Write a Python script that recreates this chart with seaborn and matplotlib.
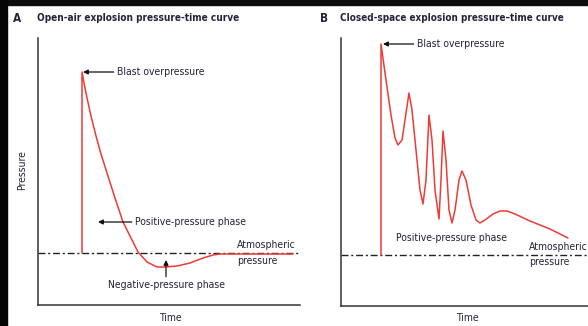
import matplotlib
matplotlib.use("Agg")
import matplotlib.pyplot as plt
from matplotlib import font_manager
from matplotlib.patches import Rectangle
import seaborn as sns
import pandas as pd

sns.set_theme(style="white")
names = {f.name for f in font_manager.fontManager.ttflist}
fam = "Liberation Sans Narrow" if "Liberation Sans Narrow" in names else "DejaVu Sans"
plt.rcParams["font.family"] = [fam, "DejaVu Sans"]
plt.rcParams["font.stretch"] = "condensed"

# ---- data (arbitrary units; atmospheric pressure = 0) ----
time_a = [44, 44, 46, 49, 53, 58, 63, 69, 77, 85, 94, 100, 109, 119, 127, 139, 152, 165, 175, 182, 255]
pres_a = [0, 181, 170, 155, 137, 117, 99, 80, 55, 31, 13, 1, -9, -14, -14, -13, -10, -5, -2, -1, -1]

time_b = [40, 40, 45, 50, 54, 57, 61, 64, 68, 71, 75, 79, 82, 85, 88, 91, 94, 98, 100, 102,
          105, 108, 111, 114, 118, 121, 125, 130, 135, 139, 144, 152, 159, 166, 174, 189, 209, 227]
pres_b = [0, 211, 175, 140, 117, 110, 115, 135, 162, 145, 105, 65, 51, 75, 140, 115, 65, 36, 75, 124,
          95, 45, 32, 45, 75, 84, 75, 50, 35, 32, 35, 41, 44, 44, 41, 34, 26, 17]

titles = ["Open-air explosion pressure-time curve", "Closed-space explosion pressure\u2013time curve"]
letters = ["A", "B"]

red = "#ee3b35"
txt = "#23233a"

W, H = 588, 326
fig = plt.figure(figsize=(W / 100, H / 100), dpi=100)
fig.patch.set_facecolor("white")

def fx(px):
    return px / W

def fy(py):
    return 1 - py / H

axA = fig.add_axes([fx(38), fy(305), fx(300) - fx(38), fy(38) - fy(305)])
axB = fig.add_axes([fx(341), fy(306), fx(588) - fx(341), fy(38) - fy(306)])

dfA = pd.DataFrame({"time": time_a, "pressure": pres_a})
dfB = pd.DataFrame({"time": time_b, "pressure": pres_b})

sns.lineplot(data=dfA, x="time", y="pressure", sort=False, estimator=None, color=red, lw=1.1, ax=axA)
sns.lineplot(data=dfB, x="time", y="pressure", sort=False, estimator=None, color=red, lw=1.1, ax=axB)

axA.set_xlim(0, 262)
axA.set_ylim(-52, 215)
axB.set_xlim(0, 247)
axB.set_ylim(-51, 217)

for ax in (axA, axB):
    ax.axhline(0, color="#222222", lw=1.0, dashes=(5, 2, 1.5, 2), zorder=1)
    for s in ("top", "right"):
        ax.spines[s].set_visible(False)
    for s in ("left", "bottom"):
        ax.spines[s].set_color("#333333")
        ax.spines[s].set_linewidth(1.1)
    ax.set_xticks([])
    ax.set_yticks([])
    ax.set_xlabel("")
    ax.set_ylabel("")
    ax.patch.set_alpha(0)

fs = 7.5
arrow = dict(arrowstyle="-|>", color="#111111", lw=0.9, mutation_scale=7, shrinkA=0, shrinkB=0)

# Panel A annotations
axA.annotate("Blast overpressure", xy=(45, 181), xytext=(79, 181), ha="left", va="center",
             fontsize=fs, color=txt, arrowprops=arrow)
axA.annotate("Positive-pressure phase", xy=(60, 31), xytext=(97, 31), ha="left", va="center",
             fontsize=fs, color=txt, arrowprops=arrow)
axA.annotate("Negative-pressure phase", xy=(128, -7), xytext=(128, -32), ha="center", va="center",
             fontsize=fs, color=txt, arrowprops=arrow)
axA.text(199, 8, "Atmospheric", ha="left", va="center", fontsize=fs, color=txt)
axA.text(199, -8, "pressure", ha="left", va="center", fontsize=fs, color=txt)

# Panel B annotations
axB.annotate("Blast overpressure", xy=(42, 211), xytext=(76, 211), ha="left", va="center",
             fontsize=fs, color=txt, arrowprops=arrow)
axB.text(111, 17, "Positive-pressure phase", ha="center", va="center", fontsize=fs, color=txt)
axB.text(188, 8, "Atmospheric", ha="left", va="center", fontsize=fs, color=txt, clip_on=False)
axB.text(188, -7, "pressure", ha="left", va="center", fontsize=fs, color=txt)

# Titles and axis labels
fig.text(fx(13), fy(18), letters[0], fontsize=8.5, fontweight="bold", color=txt, va="center", ha="left")
tA = fig.text(fx(37), fy(18), titles[0], fontsize=7.5, fontweight="bold", color=txt, va="center", ha="left")
fig.text(fx(320), fy(18), letters[1], fontsize=8.5, fontweight="bold", color=txt, va="center", ha="left")
tB = fig.text(fx(340), fy(18), titles[1], fontsize=7.5, fontweight="bold", color=txt, va="center", ha="left")

# fit title widths to the reference's widths
fig.canvas.draw()
r = fig.canvas.get_renderer()
for t, target in ((tA, 201), (tB, 222)):
    w = t.get_window_extent(r).width
    t.set_fontsize(t.get_fontsize() * target / w)

fig.text(fx(22), fy(170), "Pressure", rotation=90, fontsize=fs, color=txt, va="center", ha="center")
fig.text(fx(170), fy(318), "Time", fontsize=fs, color=txt, va="center", ha="center")
fig.text(fx(467), fy(318), "Time", fontsize=fs, color=txt, va="center", ha="center")

# dark frame strips
fig.add_artist(Rectangle((0, fy(5)), 1, 1 - fy(5), transform=fig.transFigure, color="#0d0d0d", zorder=10))
fig.add_artist(Rectangle((0, 0), fx(7), 1, transform=fig.transFigure, color="#050505", zorder=10))

fig.savefig("out.png", dpi=100)
